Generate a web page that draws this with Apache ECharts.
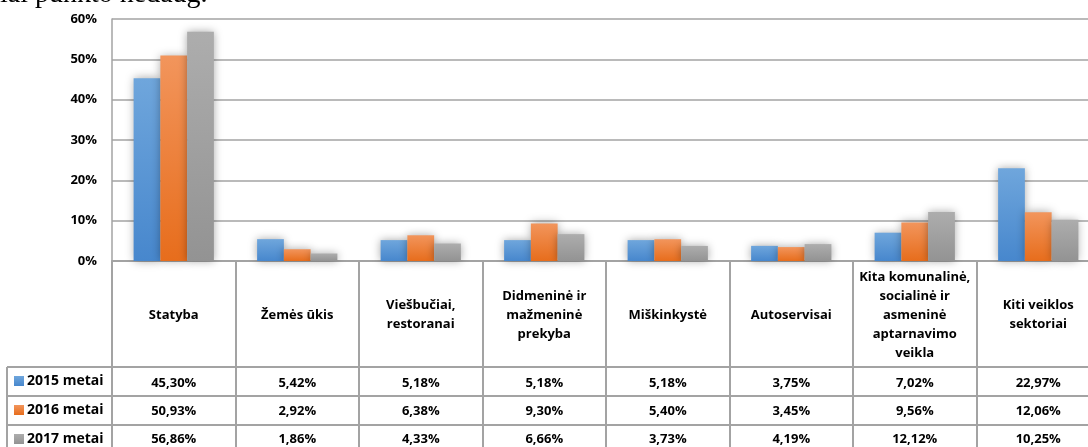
<!DOCTYPE html>
<html>
<head>
<meta charset="utf-8">
<script src="https://cdn.jsdelivr.net/npm/echarts@6/dist/echarts.min.js"></script>
<style>
html, body { margin: 0; padding: 0; background: #fff; }
#main { width: 1088px; height: 447px; }
</style>
</head>
<body>
<div id="main"></div>
<script>
// duomenys
var categories = ['Statyba', 'Žemės ūkis', 'Viešbučiai,\nrestoranai', 'Didmeninė ir\nmažmeninė\nprekyba', 'Miškinkystė', 'Autoservisai', 'Kita komunalinė,\nsocialinė ir\nasmeninė\naptarnavimo\nveikla', 'Kiti veiklos\nsektoriai'];
var years = ['2015 metai', '2016 metai', '2017 metai'];
var data2015 = [45.30, 5.42, 5.18, 5.18, 5.18, 3.75, 7.02, 22.97];
var data2016 = [50.93, 2.92, 6.38, 9.30, 5.40, 3.45, 9.56, 12.06];
var data2017 = [56.86, 1.86, 4.33, 6.66, 3.73, 4.19, 12.12, 10.25];
var yMin = 0, yMax = 60, yStep = 10;

var font = 'Open Sans';
var lineColor = '#a3a3a3';
var seriesData = [data2015, data2016, data2017];
var colors = [
    ['#6fa6dc', '#4787cd'],
    ['#f2955c', '#e76d1c'],
    ['#adadad', '#939393']
];
var legendColors = ['#5b9bd5', '#ed7d31', '#a5a5a5'];

function fmt(v) {
    return v.toFixed(2).replace('.', ',') + '%';
}

var chartDom = document.getElementById('main');
var myChart = echarts.init(chartDom);
var option;

// lentelės eilutės po ašimi
var rowMargins = [122, 150, 178];
var xAxes = [{
    type: 'category',
    data: categories,
    axisLine: { lineStyle: { color: lineColor, width: 2 } },
    axisTick: { show: true, interval: 0, length: 186, lineStyle: { color: lineColor, width: 2 } },
    axisLabel: {
        interval: 0,
        margin: 54,
        verticalAlign: 'middle',
        lineHeight: 19,
        color: '#000',
        fontFamily: font,
        fontWeight: 'bold',
        fontSize: 13
    }
}];
for (var r = 0; r < 3; r++) {
    (function (r) {
        xAxes.push({
            type: 'category',
            data: categories,
            position: 'bottom',
            axisLine: { show: false },
            axisTick: { show: false },
            axisLabel: {
                interval: 0,
                margin: rowMargins[r],
                verticalAlign: 'middle',
                color: '#000',
                fontFamily: font,
                fontWeight: 'bold',
                fontSize: 13,
                formatter: function (val, idx) { return fmt(seriesData[r][idx]); }
            }
        });
    })(r);
}

var series = [];
for (var i = 0; i < 3; i++) {
    series.push({
        name: years[i],
        type: 'bar',
        data: seriesData[i],
        barGap: '0%',
        barCategoryGap: '35%',
        color: legendColors[i],
        itemStyle: {
            color: new echarts.graphic.LinearGradient(0, 0, 0, 1, [
                { offset: 0, color: colors[i][0] },
                { offset: 1, color: colors[i][1] }
            ]),
            shadowBlur: 9,
            shadowColor: 'rgba(0,0,0,0.35)'
        }
    });
}

option = {
    animation: false,
    grid: { left: 112, top: 19, width: 988, height: 242, outerBoundsMode: 'none', containLabel: false },
    legend: {
        orient: 'vertical',
        left: 14,
        top: 373,
        height: 120,
        padding: 0,
        itemGap: 13,
        itemWidth: 10,
        itemHeight: 10,
        icon: 'rect',
        textStyle: { color: '#000', fontFamily: font, fontWeight: 'bold', fontSize: 14, lineHeight: 16, padding: [0, 0, 0, -2] },
        data: years
    },
    xAxis: xAxes,
    yAxis: {
        type: 'value',
        min: yMin,
        max: yMax,
        interval: yStep,
        axisLine: { show: true, lineStyle: { color: lineColor, width: 1.5 } },
        axisTick: { show: false },
        splitLine: { lineStyle: { color: lineColor, width: 1.5 } },
        axisLabel: {
            margin: 15,
            color: '#000',
            fontFamily: font,
            fontWeight: 'bold',
            fontSize: 13,
            formatter: '{value}%'
        }
    },
    graphic: [
        { type: 'text', x: 0, y: -19, style: { text: 'ial punkto nedaug.', fontSize: 28, fontFamily: 'Liberation Serif', fill: '#000' } },
        { type: 'line', shape: { x1: 7, y1: 367, x2: 1088, y2: 367 }, style: { stroke: lineColor, lineWidth: 2 } },
        { type: 'line', shape: { x1: 7, y1: 396, x2: 1088, y2: 396 }, style: { stroke: lineColor, lineWidth: 2 } },
        { type: 'line', shape: { x1: 7, y1: 425, x2: 1088, y2: 425 }, style: { stroke: lineColor, lineWidth: 2 } },
        { type: 'line', shape: { x1: 7, y1: 367, x2: 7, y2: 447 }, style: { stroke: lineColor, lineWidth: 2 } }
    ],
    series: series
};
option && myChart.setOption(option);
</script>
</body>
</html>
